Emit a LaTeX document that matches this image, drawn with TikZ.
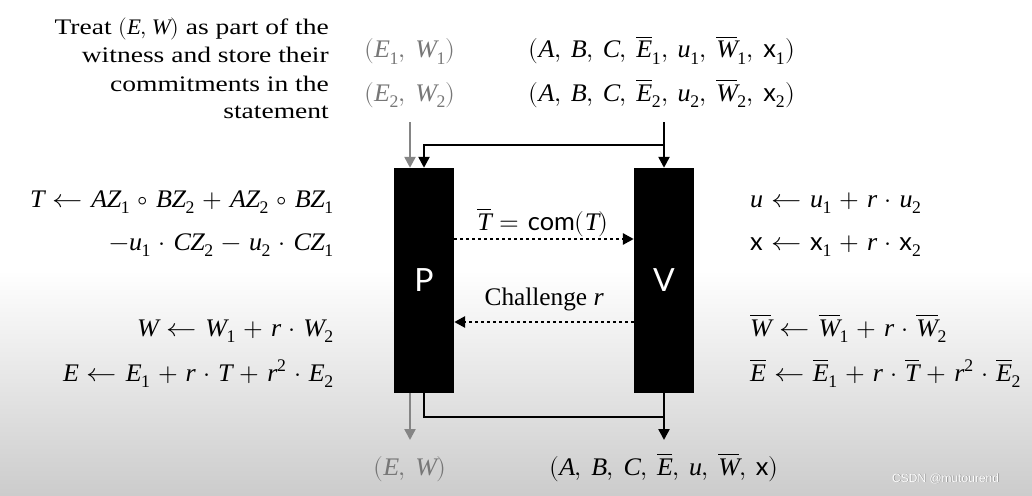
\documentclass[tikz,border=0pt]{standalone}
\usepackage{amsmath}
\usepackage{graphicx}
\usepackage{unicode-math}
\setmainfont{Liberation Serif}
\setsansfont{Lato}
\setmathfont{Latin Modern Math}
\setmathfont{Liberation Serif Italic}[range={it/{latin,Latin}},FakeStretch=1.03]
\setmathfont{Liberation Serif}[range={up/{num}}]
\newfontfamily\wmfont{Liberation Sans}
\newfontfamily\widefont{Liberation Serif}[FakeStretch=1.24]
\usetikzlibrary{arrows.meta,calc}
\definecolor{grayc}{HTML}{777777}
\definecolor{grayl}{HTML}{858585}
\newcommand{\sx}{\textsf{x}}
\newcommand{\ob}[1]{\overline{#1}}
\newcommand{\lar}{\mathrel{\scalebox{1.2}[1]{$\leftarrow$}}}
\thinmuskip=6.8mu
\medmuskip=5.5mu plus 2mu minus 4mu
\thickmuskip=6mu plus 3mu
\begin{document}
\begin{tikzpicture}[x=1pt,y=-1pt,
  txt/.style={inner sep=0pt, font=\widefont\fontsize{22.2}{25}\selectfont},
  mth/.style={inner sep=0pt, font=\fontsize{25.3}{29}\selectfont},
  gtxt/.style={mth, text=grayc},
  party/.style={fill=black, minimum width=60pt, minimum height=225pt, inner sep=0pt, text=white, font=\sffamily\fontsize{32}{36}\selectfont},
  blk/.style={line width=2.4pt, -{Triangle[length=11pt,width=11pt]}},
  plain/.style={line width=2.4pt},
  gry/.style={blk, draw=grayl},
  dotl/.style={line width=2.8pt, dash pattern=on 2.8pt off 3.2pt, -{Triangle[length=11pt,width=11pt]}},
  wm/.style={inner sep=0pt, font=\wmfont\fontsize{12}{14}\selectfont, anchor=base west}
]
\useasboundingbox (0,0) rectangle (1032,495);
\fill[white] (0,0) rectangle (1032,270);
\shade[top color=white, bottom color=black!20] (0,270) rectangle (1032,495);

% left explanatory text
\node[txt, anchor=base east] (l1) at (329,35) {Treat {\thinmuskip=4mu$(E,W)$} as part of the};
\node[txt, anchor=base east] (l2) at (329,63) {witness and store their};
\node[txt, anchor=base east] (l3) at (329,91) {commitments in the};
\node[txt, anchor=base east] (l4) at (329,118) {statement};

% top inputs
\node[gtxt, anchor=base] (in1) at (410,58) {$(E_1,W_1)$};
\node[gtxt, anchor=base] (in2) at (410,101) {$(E_2,W_2)$};
\node[mth, anchor=base] (st1) at (662,58) {$(A,B,C,\ob{E}_1,u_1,\ob{W}_1,\sx_1)$};
\node[mth, anchor=base] (st2) at (662,101) {$(A,B,C,\ob{E}_2,u_2,\ob{W}_2,\sx_2)$};

% parties
\node[party] (P) at (424,280.5) {P};
\node[party] (V) at (664,280.5) {V};

% incoming connectors
\coordinate (g1) at (410,122);
\coordinate (b1) at (664,122);
\coordinate (h1) at (0,145);
\draw[gry] (g1) -- (g1 |- P.north);
\draw[blk] (b1) -- (V.north);
\draw[blk] (b1 |- h1) -| (P.north);

% messages
\coordinate (m1) at (0,239);
\coordinate (m2) at (0,322);
\draw[dotl] (P.east |- m1) -- (V.west |- m1);
\draw[dotl] (V.west |- m2) -- (P.east |- m2);
\node[mth, anchor=base] (lab1) at (543,230) {$\ob{T}=\textsf{com}(T)$};
\node[mth, anchor=base] (lab2) at (544,305) {Challenge $r$};

% left computations
\node[mth, anchor=base east] (f1) at (334,207) {$T\lar AZ_1\circ BZ_2+AZ_2\circ BZ_1$};
\node[mth, anchor=base east] (f2) at (334,250) {$-u_1\cdot CZ_2-u_2\cdot CZ_1$};
\node[mth, anchor=base east] (f3) at (334,336) {$W\lar W_1+r\cdot W_2$};
\node[mth, anchor=base east] (f4) at (334,381) {$E\lar E_1+r\cdot T+r^2\cdot E_2$};

% right computations
\node[mth, anchor=base west] (g1t) at (750,207) {$u\lar u_1+r\cdot u_2$};
\node[mth, anchor=base west] (g2t) at (750,250) {$\sx\lar \sx_1+r\cdot \sx_2$};
\node[mth, anchor=base west] (g3t) at (750,336) {$\ob{W}\lar \ob{W}_1+r\cdot \ob{W}_2$};
\node[mth, anchor=base west] (g4t) at (750,381) {$\ob{E}\lar \ob{E}_1+r\cdot \ob{T}+r^2\cdot \ob{E}_2$};

% outgoing connectors
\coordinate (g2) at (410,440);
\coordinate (b3) at (664,440);
\coordinate (h2) at (0,417);
\draw[gry] (g2 |- P.south) -- (g2);
\draw[blk] (P.south) -- (P.south |- h2) -| (b3);
\draw[plain] (V.south) -- (V.south |- h2);

% outputs
\node[gtxt, anchor=base] (out1) at (410,475) {$(E,W)$};
\node[mth, anchor=base] (out2) at (664,475) {$(A,B,C,\ob{E},u,\ob{W},\sx)$};

% watermark
\node[wm, text=black!45] (wm0) at (892.6,482.6) {CSDN @mutourend};
\node[wm, text=white] (wm1) at (892,482) {CSDN @mutourend};
\end{tikzpicture}
\end{document}
